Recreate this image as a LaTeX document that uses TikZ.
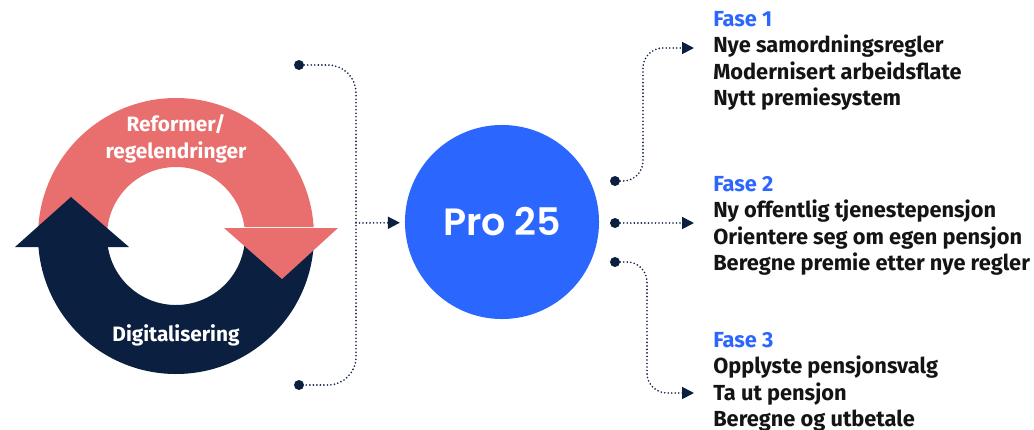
\documentclass[tikz,border=0pt]{standalone}
\usepackage{fontspec}
\setmainfont{Fira Sans}[BoldFont={Fira Sans Bold}]
\newfontfamily\profont{Poppins}[BoldFont={Poppins SemiBold}]
\usetikzlibrary{arrows.meta, positioning}

\definecolor{coral}{HTML}{E96E6E}
\definecolor{navy}{HTML}{0B1F40}
\definecolor{problue}{HTML}{2B66FF}
\definecolor{ink}{HTML}{141414}

\begin{document}
\begin{tikzpicture}[x=0.025cm, y=-0.025cm,
    ringtext/.style={font=\fontsize{14.8}{19.5}\selectfont\bfseries, text=white, align=center, inner sep=0},
    phase/.style={font=\fontsize{15.5}{18.8}\selectfont\bfseries, text=ink, align=left, anchor=north west, inner sep=0},
    dot/.style={circle, fill=navy, inner sep=0, minimum size=0.25cm},
    link/.style={navy, line width=1.3pt, dash pattern=on 0pt off 2.5pt, line cap=round, rounded corners=0.5cm},
    tip/.style={-{Triangle[length=0.3cm, width=0.3cm]}}
]
\useasboundingbox (0,0) rectangle (1034,429);

% Cycle
\fill[coral] ([shift={(180:138)}]176,236) arc[start angle=180, end angle=356.3, radius=138]
    -- ([shift={(352.5:69)}]176,236) arc[start angle=352.5, end angle=180, radius=69] -- cycle;
\fill[navy] ([shift={(0:138)}]176,236) arc[start angle=0, end angle=175.8, radius=138]
    -- ([shift={(171.7:69)}]176,236) arc[start angle=171.7, end angle=0, radius=69] -- cycle;
\fill[coral] (224,228) -- (338,228) -- (282,279) -- cycle;
\fill[navy] (15,247) -- (129,247) -- (71,197) -- cycle;
\node[ringtext] (reform) at (176,139) {Reformer/\\regelendringer};
\node[ringtext, anchor=base] (digital) at (176,341) {Digitalisering};

% Bracket
\node[dot] (dtop) at (299,65) {};
\node[dot] (dbot) at (299,385) {};
\draw[link, rounded corners=0.7cm] (dtop) -- (356,65) -- (356,385) -- (dbot);
\coordinate (brace) at (356,223);

% Pro 25
\node[circle, fill=problue, minimum size=4.85cm, inner sep=0, text=white,
      font=\profont\fontsize{27}{30}\selectfont\bfseries] (pro) at (502,222) {Pro 25};
\draw[link, tip, shorten >=0.12cm] (brace) -- (pro);

% Phases
\node[dot] (d1) at (615,181) {};
\node[dot] (d2) at (615,223) {};
\node[dot] (d3) at (615,262) {};
\coordinate (f1) at (694,48);
\coordinate (f2) at (694,223);
\coordinate (f3) at (694,393);
\draw[link, tip] (d1) -- (643,181) -- (643,48) -- (f1);
\draw[link, tip] (d2) -- (f2);
\draw[link, tip] (d3) -- (647,262) -- (647,393) -- (f3);

\node[phase] (fase1) at (713,11) {\textcolor{problue}{Fase 1}\\Nye samordningsregler\\Modernisert arbeidsflate\\Nytt premiesystem};
\node[phase] (fase2) at (713,176) {\textcolor{problue}{Fase 2}\\Ny offentlig tjenestepensjon\\Orientere seg om egen pensjon\\Beregne premie etter nye regler};
\node[phase] (fase3) at (713,332) {\textcolor{problue}{Fase 3}\\Opplyste pensjonsvalg\\Ta ut pensjon\\Beregne og utbetale};

\end{tikzpicture}
\end{document}
